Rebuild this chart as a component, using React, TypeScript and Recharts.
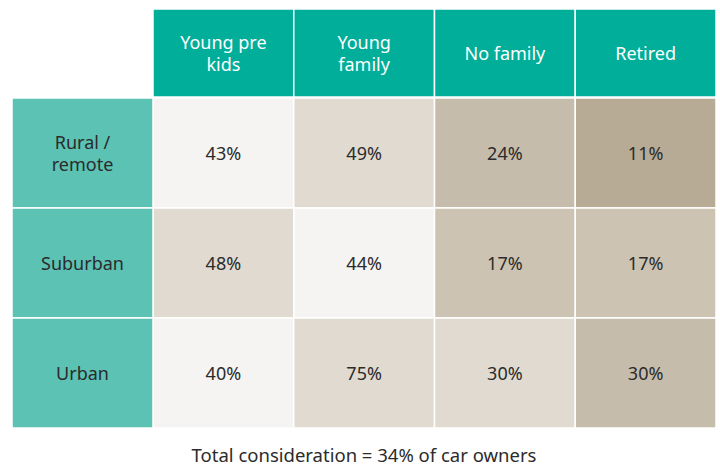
import React from 'react';
import { ScatterChart, Scatter, XAxis, YAxis } from 'recharts';

// Segment columns and location rows
const columnLabels = [['Young pre', 'kids'], ['Young', 'family'], ['No family'], ['Retired']];
const rowLabels = [['Rural /', 'remote'], ['Suburban'], ['Urban']];

// Share considering (%), one array per row
const ruralValues = [43, 49, 24, 11];
const suburbanValues = [48, 44, 17, 17];
const urbanValues = [40, 75, 30, 30];

// Shade bucket of each cell (0 = lightest)
const ruralShade = [0, 1, 3, 4];
const suburbanShade = [1, 0, 2, 2];
const urbanShade = [0, 1, 1, 3];

const caption = 'Total consideration = 34% of car owners';

const palette = ['#f5f4f2', '#e0dad0', '#ccc3b3', '#c6bcab', '#b7ab96'];
const FONT = '"Noto Sans", sans-serif';
const FS = 18;

const W = 720;
const H = 464;
const MARGIN = { top: 9, right: 4, bottom: 36, left: 12 };
const HEADER_H = 89;
const ROWHEAD_W = 141;
const CELL_W = (W - MARGIN.left - MARGIN.right - ROWHEAD_W) / columnLabels.length;
const CELL_H = (H - MARGIN.top - MARGIN.bottom - HEADER_H) / rowLabels.length;

const rows = [ruralValues, suburbanValues, urbanValues];
const shades = [ruralShade, suburbanShade, urbanShade];
const cells = rows.flatMap((vals, r) =>
  vals.map((v, c) => ({ col: c, row: r, value: v, shade: shades[r][c] }))
);

const CellShape = (props: any) => {
  const { cx, cy, payload } = props;
  if (cx == null || cy == null) return null;
  return (
    <g>
      <rect
        x={cx - CELL_W / 2}
        y={cy - CELL_H / 2}
        width={CELL_W}
        height={CELL_H}
        fill={palette[payload.shade]}
        stroke="#fff"
        strokeWidth={1.5}
      />
      <text
        x={cx}
        y={cy}
        textAnchor="middle"
        dominantBaseline="central"
        fontSize={FS}
        fontFamily={FONT}
        fill="#2b2b2b"
      >
        {payload.value}%
      </text>
    </g>
  );
};

const HeaderTick = (props: any) => {
  const { x, payload } = props;
  const lines = columnLabels[payload.value] || [];
  const top = MARGIN.top;
  const mid = top + (HEADER_H - 1) / 2;
  return (
    <g>
      <rect
        x={x - CELL_W / 2}
        y={top}
        width={CELL_W}
        height={HEADER_H - 1}
        fill="#00ae9a"
        stroke="#fff"
        strokeWidth={1.5}
      />
      {lines.map((l, i) => (
        <text
          key={i}
          x={x}
          y={mid + (i - (lines.length - 1) / 2) * 22}
          textAnchor="middle"
          dominantBaseline="central"
          fontSize={FS}
          fontFamily={FONT}
          fill="#fff"
        >
          {l}
        </text>
      ))}
    </g>
  );
};

const RowTick = (props: any) => {
  const { y, payload } = props;
  const lines = rowLabels[payload.value] || [];
  const left = MARGIN.left;
  return (
    <g>
      <rect
        x={left}
        y={y - CELL_H / 2}
        width={ROWHEAD_W}
        height={CELL_H}
        fill="#5bc2b4"
        stroke="#fff"
        strokeWidth={1.5}
      />
      {lines.map((l, i) => (
        <text
          key={i}
          x={left + ROWHEAD_W / 2}
          y={y + (i - (lines.length - 1) / 2) * 22}
          textAnchor="middle"
          dominantBaseline="central"
          fontSize={FS}
          fontFamily={FONT}
          fill="#2b2b2b"
        >
          {l}
        </text>
      ))}
    </g>
  );
};

const App = () => {
  return (
    <div style={{ position: 'absolute', left: 0, top: 0, width: W, height: H, background: '#fff' }}>
      <ScatterChart width={W} height={H} margin={MARGIN}>
        <XAxis
          type="number"
          dataKey="col"
          orientation="top"
          domain={[-0.5, columnLabels.length - 0.5]}
          ticks={columnLabels.map((_, i) => i)}
          height={HEADER_H}
          axisLine={false}
          tickLine={false}
          tick={<HeaderTick />}
          interval={0}
        />
        <YAxis
          type="number"
          dataKey="row"
          reversed
          domain={[-0.5, rowLabels.length - 0.5]}
          ticks={rowLabels.map((_, i) => i)}
          width={ROWHEAD_W}
          axisLine={false}
          tickLine={false}
          tick={<RowTick />}
          interval={0}
        />
        <Scatter data={cells} shape={<CellShape />} isAnimationActive={false} />
      </ScatterChart>
      <div
        style={{
          position: 'absolute',
          top: 445,
          left: 364,
          transform: 'translateX(-50%)',
          whiteSpace: 'nowrap',
          fontFamily: FONT,
          fontSize: 18.5,
          lineHeight: '19px',
          color: '#2b2b2b',
        }}
      >
        {caption}
      </div>
    </div>
  );
};

export default App;
